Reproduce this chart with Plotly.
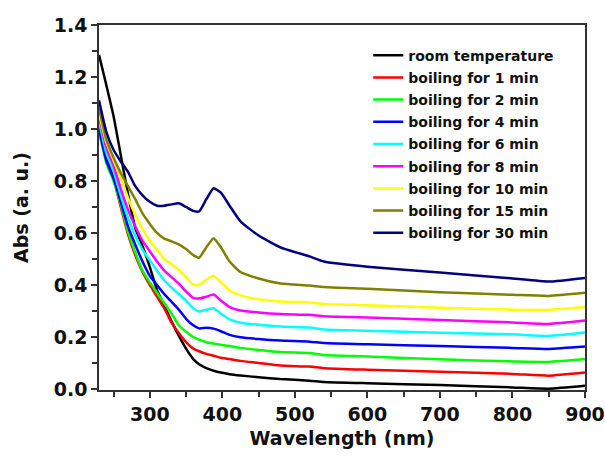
import plotly.graph_objects as go

# Wavelength grid (nm)
wavelength = [230, 240, 250, 260, 270, 280, 290, 300, 310, 320, 330, 340, 350, 360, 368,
              378, 388, 398, 410, 425, 450, 480, 520, 540, 600, 700, 800, 850, 900]

room_temp = [1.285, 1.17, 1.05, 0.90, 0.75, 0.62, 0.55, 0.47, 0.38, 0.32, 0.26, 0.205, 0.155, 0.115, 0.095,
             0.08, 0.07, 0.063, 0.057, 0.052, 0.045, 0.038, 0.032, 0.027, 0.022, 0.015, 0.006, 0.001, 0.012]
boil_1 = [1.02, 0.90, 0.81, 0.70, 0.595, 0.515, 0.45, 0.40, 0.355, 0.31, 0.255, 0.215, 0.18, 0.155, 0.145,
          0.135, 0.128, 0.12, 0.115, 0.108, 0.10, 0.09, 0.086, 0.08, 0.074, 0.066, 0.058, 0.051, 0.063]
boil_2 = [0.99, 0.87, 0.80, 0.71, 0.605, 0.525, 0.455, 0.41, 0.37, 0.33, 0.29, 0.245, 0.22, 0.20, 0.19,
          0.18, 0.175, 0.17, 0.165, 0.158, 0.15, 0.142, 0.138, 0.131, 0.125, 0.114, 0.106, 0.104, 0.115]
boil_4 = [1.00, 0.88, 0.81, 0.72, 0.625, 0.555, 0.49, 0.435, 0.40, 0.365, 0.335, 0.305, 0.27, 0.245, 0.233,
          0.235, 0.232, 0.222, 0.208, 0.199, 0.192, 0.186, 0.182, 0.177, 0.172, 0.165, 0.158, 0.154, 0.163]
boil_6 = [1.03, 0.91, 0.84, 0.745, 0.66, 0.59, 0.535, 0.495, 0.455, 0.418, 0.39, 0.365, 0.34, 0.31, 0.298,
          0.305, 0.31, 0.29, 0.268, 0.255, 0.247, 0.24, 0.236, 0.229, 0.224, 0.216, 0.21, 0.204, 0.217]
boil_8 = [1.05, 0.93, 0.86, 0.77, 0.69, 0.625, 0.57, 0.53, 0.49, 0.455, 0.43, 0.405, 0.375, 0.35, 0.348,
          0.355, 0.363, 0.34, 0.315, 0.302, 0.294, 0.288, 0.285, 0.28, 0.275, 0.265, 0.256, 0.25, 0.263]
boil_10 = [1.06, 0.95, 0.88, 0.81, 0.735, 0.67, 0.615, 0.57, 0.535, 0.50, 0.48, 0.458, 0.43, 0.40, 0.40,
           0.42, 0.435, 0.41, 0.38, 0.36, 0.345, 0.336, 0.333, 0.327, 0.322, 0.312, 0.305, 0.304, 0.315]
boil_15 = [1.08, 0.96, 0.89, 0.83, 0.78, 0.73, 0.675, 0.635, 0.60, 0.578, 0.568, 0.556, 0.538, 0.515, 0.505,
           0.545, 0.58, 0.545, 0.49, 0.45, 0.425, 0.406, 0.398, 0.392, 0.385, 0.372, 0.362, 0.358, 0.37]
boil_30 = [1.11, 0.99, 0.92, 0.875, 0.835, 0.78, 0.745, 0.72, 0.705, 0.705, 0.71, 0.714, 0.70, 0.685, 0.683,
           0.73, 0.772, 0.755, 0.705, 0.645, 0.59, 0.545, 0.51, 0.49, 0.47, 0.448, 0.425, 0.413, 0.427]

series_names = ["room temperature", "boiling for 1 min", "boiling for 2 min", "boiling for 4 min",
                "boiling for 6 min", "boiling for 8 min", "boiling for 10 min", "boiling for 15 min",
                "boiling for 30 min"]
series_values = [room_temp, boil_1, boil_2, boil_4, boil_6, boil_8, boil_10, boil_15, boil_30]
series_colors = ["#000000", "#ff0000", "#00ff00", "#0000ff", "#00ffff", "#ff00ff", "#ffff00",
                 "#808000", "#000080"]

FONT = "DejaVu Sans, sans-serif"
INK = "#111111"
AXIS = "#333333"

fig = go.Figure()
for i, (name, vals, col) in enumerate(zip(series_names, series_values, series_colors)):
    fig.add_trace(go.Scatter(
        x=wavelength, y=vals, name=name, mode="lines", legendgroup=f"g{i}",
        line=dict(color=col, width=2.5, shape="spline", smoothing=0.5),
    ))

axis_common = dict(
    showline=True, linecolor=AXIS, linewidth=1.5, mirror=True,
    ticks="outside", ticklen=6, tickwidth=1.5, tickcolor=AXIS,
    showgrid=False, zeroline=False,
    tickfont=dict(family=FONT, size=19, color=INK, weight="bold"),
)

fig.update_xaxes(
    range=[230, 900], tick0=300, dtick=100, automargin="height",
    minor=dict(ticks="outside", ticklen=5, tickwidth=1.5, tickcolor=AXIS, dtick=50, tick0=250),
    title=dict(text="Wavelength (nm)", font=dict(family=FONT, size=19, color=INK, weight="bold"),
               standoff=8),
    **axis_common,
)
fig.update_yaxes(
    range=[-0.004, 1.4], tick0=0, dtick=0.2, tickformat=".1f", automargin="width",
    minor=dict(ticks="outside", ticklen=5, tickwidth=1.5, tickcolor=AXIS, dtick=0.1),
    title=dict(text="Abs (a. u.)", font=dict(family=FONT, size=19, color=INK, weight="bold"),
               standoff=20),
    **axis_common,
)

fig.update_layout(
    width=605, height=465,
    margin=dict(l=99, r=20, t=25, b=75),
    plot_bgcolor="white", paper_bgcolor="white",
    legend=dict(
        x=0.554, y=0.96, xanchor="left", yanchor="top",
        bgcolor="rgba(0,0,0,0)", borderwidth=0,
        font=dict(family=FONT, size=14, color=INK, weight="bold"),
        traceorder="grouped", tracegroupgap=1,
    ),
    showlegend=True,
)

fig.write_html("out.html")
